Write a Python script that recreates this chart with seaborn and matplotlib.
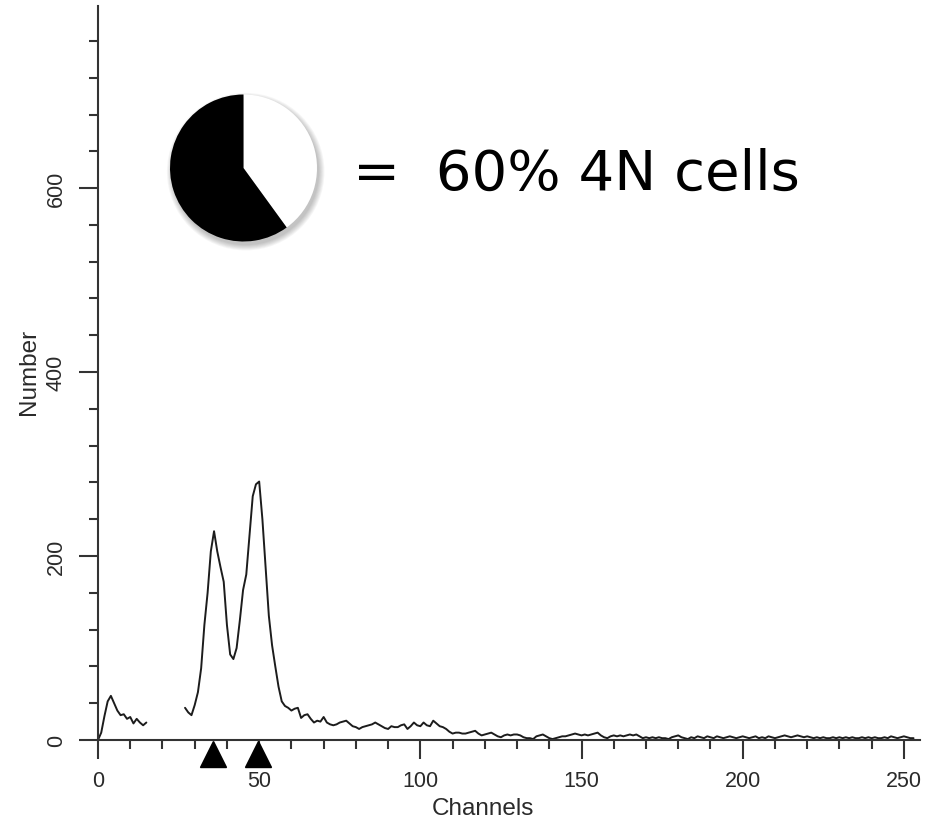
import matplotlib
matplotlib.use("Agg")
import matplotlib.pyplot as plt
import matplotlib.transforms as mtransforms
from matplotlib.patches import Circle
from matplotlib.ticker import MultipleLocator, FixedLocator
import numpy as np
import pandas as pd
import seaborn as sns

# ---------------- data ----------------
debris_channels = list(range(0, 16))
debris_counts = [0, 8, 26, 42, 48, 40, 32, 27, 28, 23, 25, 18, 23, 19, 16, 19]

cycle_channels = list(range(27, 254))
cycle_counts = [
    35, 30, 27, 38, 52, 78, 125, 160, 205, 227,          # 27-36
    205, 188, 172, 125, 93, 88, 100, 130, 163, 180,      # 37-46
    222, 265, 278, 281, 240, 187, 135, 103, 80, 58,      # 47-56
    42, 37, 35, 32, 34, 35, 24, 27, 28, 23,              # 57-66
    19, 21, 20, 25, 19, 17, 16, 17, 19, 20,              # 67-76
    21, 18, 15, 14, 12, 14, 15, 16, 17, 19,              # 77-86
    17, 15, 13, 12, 15, 14, 14, 16, 17, 12,              # 87-96
    15, 19, 16, 15, 19, 16, 15, 21, 18, 15,              # 97-106
    14, 12, 9, 7, 8, 8, 7, 7, 8, 9,                      # 107-116
    10, 7, 5, 6, 7, 8, 6, 4, 3, 5,                       # 117-126
    6, 5, 6, 6, 5, 3, 2, 2, 1, 4,                        # 127-136
    5, 6, 4, 2, 1, 2, 3, 4, 4, 5,                        # 137-146
    6, 7, 6, 5, 6, 5, 6, 7, 8, 5,                        # 147-156
    3, 2, 4, 5, 4, 5, 4, 5, 6, 5,                        # 157-166
    6, 4, 2, 3, 2, 3, 2, 3, 2, 2,                        # 167-176
    1, 3, 4, 5, 3, 2, 1, 3, 2, 4,                        # 177-186
    3, 2, 4, 3, 2, 4, 3, 2, 3, 4,                        # 187-196
    3, 2, 3, 4, 3, 2, 3, 4, 2, 3,                        # 197-206
    2, 4, 3, 2, 3, 4, 5, 4, 3, 4,                        # 207-216
    5, 4, 3, 4, 3, 2, 3, 2, 3, 2,                        # 217-226
    2, 3, 2, 3, 2, 3, 2, 3, 2, 2,                        # 227-236
    3, 2, 3, 2, 3, 2, 2, 3, 2, 4,                        # 237-246
    3, 2, 3, 4, 3, 2, 2,                                 # 247-253
]

peak_marker_channels = [35.7, 49.7]
pie_groups = ["other", "4N"]
pie_shares = [40, 60]
annotation_text = "=  60% 4N cells"
x_label = "Channels"
y_label = "Number"
x_major_ticks = [0, 50, 100, 150, 200, 250]
y_major_ticks = [0, 200, 400, 600]

# ---------------- style ----------------
sns.set_theme(style="ticks")
plt.rcParams["font.family"] = ["Liberation Sans", "DejaVu Sans"]

W, H = 949, 828
fig = plt.figure(figsize=(W / 100, H / 100), dpi=100)
fig.patch.set_facecolor("white")

ax_left, ax_bottom, ax_w, ax_h = 98, 87, 822, 734
ax = fig.add_axes([ax_left / W, ax_bottom / H, ax_w / W, ax_h / H])
ax.set_facecolor("white")

df = pd.DataFrame({
    "channel": debris_channels + cycle_channels,
    "count": debris_counts + cycle_counts,
    "segment": ["debris"] * len(debris_channels) + ["cycle"] * len(cycle_channels),
})
sns.lineplot(data=df, x="channel", y="count", units="segment", estimator=None,
             color="#1c1c1c", linewidth=1.4, ax=ax, legend=False)

ax.set_xlim(0, 255)
ax.set_ylim(0, 798)

axis_col = "#333333"
for s in ["top", "right"]:
    ax.spines[s].set_visible(False)
for s in ["left", "bottom"]:
    ax.spines[s].set_linewidth(1.5)
    ax.spines[s].set_color(axis_col)

ax.xaxis.set_major_locator(FixedLocator(x_major_ticks))
ax.xaxis.set_minor_locator(MultipleLocator(10))
ax.yaxis.set_major_locator(FixedLocator(y_major_ticks))
ax.yaxis.set_minor_locator(MultipleLocator(40))
ax.set_xticklabels([str(t) for t in x_major_ticks])
ax.set_yticklabels([str(t) for t in y_major_ticks])

ax.tick_params(axis="both", which="major", length=13.5, width=1.5, color=axis_col,
               labelsize=15.5, labelcolor="#2a2a2a", direction="out")
ax.tick_params(axis="both", which="minor", length=6.8, width=1.5, color=axis_col,
               direction="out")
ax.tick_params(axis="x", which="major", pad=8.0)
ax.tick_params(axis="y", which="major", pad=9.0, labelrotation=90)
for lbl in ax.get_yticklabels():
    lbl.set_va("center")

ax.set_xlabel(x_label, fontsize=17.5, color="#2a2a2a")
ax.set_ylabel(y_label, fontsize=17.5, color="#2a2a2a")
ax.xaxis.set_label_coords((483 - ax_left) / ax_w, -(798 - 741) / ax_h)
ax.yaxis.set_label_coords(-(98 - 40) / ax_w, 0.503)

# peak markers below the axis
trans = mtransforms.blended_transform_factory(ax.transData, ax.transAxes)
ax.plot(peak_marker_channels, [-13.5 / ax_h] * len(peak_marker_channels),
        marker="^", markersize=19, color="black", linestyle="none",
        transform=trans, clip_on=False, zorder=6)

# ---------------- pie inset ----------------
cx, cy, r = 243.5, 169, 73.5
half = 1.25 * r
pax = fig.add_axes([(cx - half) / W, 1 - (cy + half) / H, 2 * half / W, 2 * half / H])
pax.set_xlim(-1.25, 1.25)
pax.set_ylim(-1.25, 1.25)
for k in range(7):
    pax.add_patch(Circle((0.03, -0.05), 1.0 + 0.012 * k, facecolor="black",
                         edgecolor="none", alpha=0.035, zorder=0))
pax.pie(pie_shares, colors=["white", "black"], startangle=90, counterclock=False,
        radius=1.0, wedgeprops={"linewidth": 0, "edgecolor": "none"})
pax.set_xlim(-1.25, 1.25)
pax.set_ylim(-1.25, 1.25)
pax.set_aspect("equal")
pax.axis("off")

fig.text(353 / W, 1 - 190 / H, annotation_text, fontsize=40.4, family=["DejaVu Sans"],
         ha="left", va="baseline", color="black")

fig.savefig("out.png", dpi=100, facecolor="white")
